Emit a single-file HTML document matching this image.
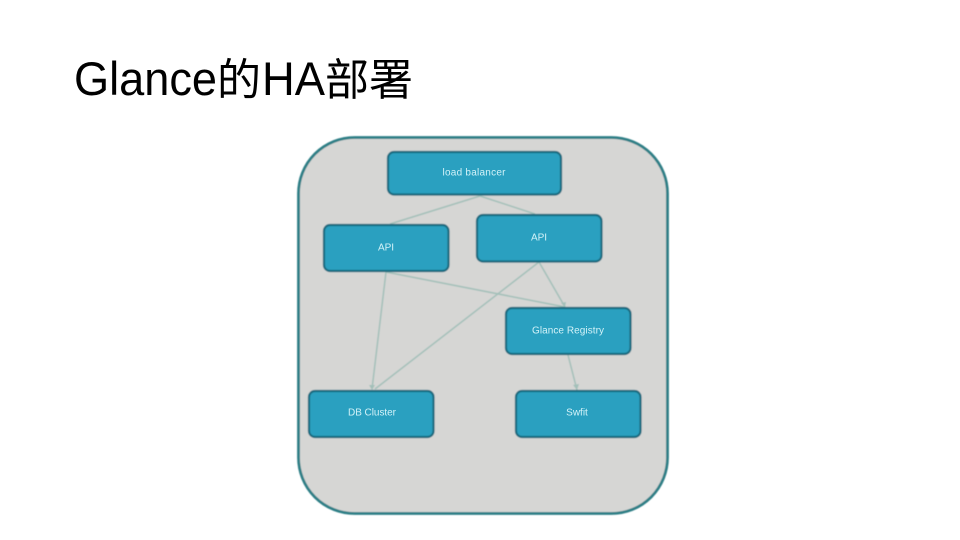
<!DOCTYPE html>
<html lang="zh">
<head>
<meta charset="utf-8">
<title>Glance的HA部署</title>
<style>
html,body{margin:0;padding:0;background:#fff}
body{width:960px;height:540px;overflow:hidden;position:relative}
svg{position:absolute;left:0;top:0}
</style>
</head>
<body>
<svg width="960" height="540" viewBox="0 0 960 540" xmlns="http://www.w3.org/2000/svg">
<defs>
<filter id="soft" x="-5%" y="-5%" width="110%" height="110%"><feGaussianBlur stdDeviation="0.6"/></filter>
<filter id="textsoft" x="-5%" y="-20%" width="110%" height="140%"><feGaussianBlur stdDeviation="0.25"/></filter>
</defs>
<text x="74" y="95" font-family="'Liberation Sans','Noto Sans CJK SC',sans-serif" font-size="47" textLength="143" lengthAdjust="spacingAndGlyphs" fill="#000">Glance</text>
<text x="217" y="95" font-family="'Noto Sans CJK SC',sans-serif" font-size="44" fill="#000">的</text>
<text x="262" y="95" font-family="'Liberation Sans',sans-serif" font-size="47" textLength="63" lengthAdjust="spacingAndGlyphs" fill="#000">HA</text>
<text x="325" y="95" font-family="'Noto Sans CJK SC',sans-serif" font-size="44" fill="#000">部署</text>
<g filter="url(#soft)">
<rect x="298.5" y="137.5" width="369" height="376" rx="56" ry="56" fill="#d6d6d4" stroke="#2f7f86" stroke-width="2.800"/>
<g stroke="#a3c0b9" stroke-width="1.500" fill="none">
<line x1="480" y1="196" x2="390" y2="224"/>
<line x1="480" y1="196" x2="535" y2="214"/>
<line x1="386" y1="272" x2="372" y2="389"/>
<line x1="386" y1="272" x2="565" y2="307"/>
<line x1="539" y1="262" x2="565" y2="307"/>
<line x1="539" y1="262" x2="375" y2="389"/>
<line x1="568" y1="355" x2="577" y2="390"/>
</g>
<g fill="#a3c0b9">
<path d="M372 390l-3-5h6zM565 307l-4-4 5-1zM577 390l-4-5 6-1z"/>
</g>
<g fill="#29a0c0" stroke="#1a6c80" stroke-width="2.200">
<rect x="388" y="152" width="173" height="42.500" rx="6"/>
<rect x="324" y="225" width="124.500" height="46" rx="6"/>
<rect x="477" y="215" width="124.500" height="46.500" rx="6"/>
<rect x="506" y="308" width="124.500" height="46" rx="6"/>
<rect x="309" y="391" width="124.500" height="46" rx="6"/>
<rect x="516" y="391" width="124.500" height="46" rx="6"/>
</g>
</g>
<g font-family="'Liberation Sans',sans-serif" font-size="10" fill="#d2f2f8" text-anchor="middle" filter="url(#textsoft)">
<text x="474" y="175.500" textLength="63" lengthAdjust="spacing">load balancer</text>
<text x="386" y="250.500">API</text>
<text x="539" y="240.500">API</text>
<text x="568" y="333.500" textLength="72" lengthAdjust="spacing">Glance Registry</text>
<text x="372" y="415.500" textLength="48" lengthAdjust="spacing">DB Cluster</text>
<text x="577" y="415.500">Swfit</text>
</g>
</svg>
</body>
</html>
